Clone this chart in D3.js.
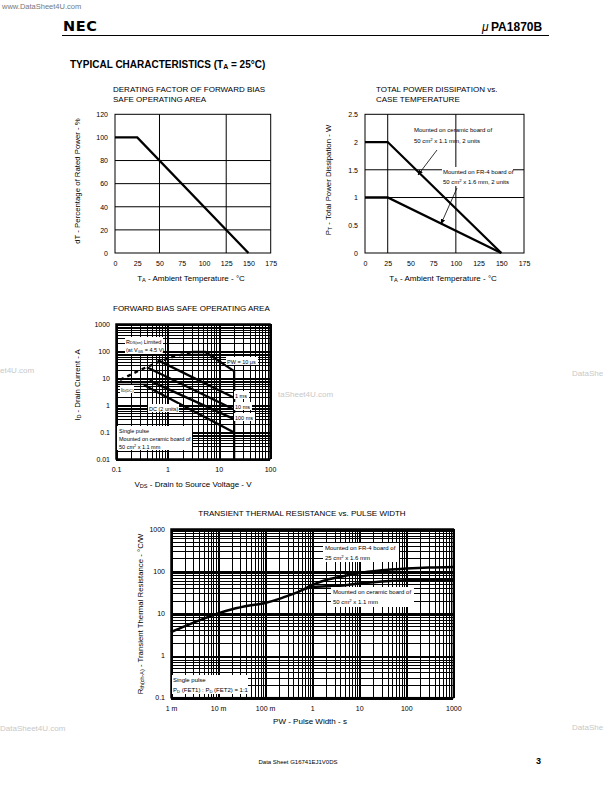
<!DOCTYPE html>
<html><head><meta charset="utf-8">
<script src="https://cdn.jsdelivr.net/npm/d3@7"></script>
<style>
body{margin:0;background:#fff}
svg{display:block;font-family:'Liberation Sans',Arial,Helvetica,sans-serif}
</style></head><body>
<svg id="c" width="612" height="792"></svg>
<script>
// ---------- DATA ----------
// Chart 1: derating factor
const derateTemp = [0, 25, 150];
const deratePct = [100, 100, 0];
const derateXTicks = [0, 25, 50, 75, 100, 125, 150, 175];
const derateYTicks = [0, 20, 40, 60, 80, 100, 120];
const derateGridX = [50, 125];
const derateGridY = [20, 40, 60, 80];

// Chart 2: total power dissipation
const pdTemp = [0, 25, 150];
const pdCeramic = [2, 2, 0];
const pdFr4 = [1, 1, 0];
const pdXTicks = [0, 25, 50, 75, 100, 125, 150, 175];
const pdYTicks = [0, 0.5, 1, 1.5, 2, 2.5];
const pdYTickLabels = ["0", "0.5", "1", "1.5", "2", "2.5"];
const pdGridX = [25, 100];
const pdGridY = [1, 1.5];

// Chart 3: forward bias SOA
const soaXTicks = [0.1, 1, 10, 100];
const soaXTickLabels = ["0.1", "1", "10", "100"];
const soaYTicks = [0.01, 0.1, 1, 10, 100, 1000];
const soaYTickLabels = ["0.01", "0.1", "1", "10", "100", "1000"];
const rdsLimitV = [0.12, 0.3, 0.7, 1.2, 3];
const rdsLimitI = [8.5, 20, 40, 58, 92];
const pw10usV = [3, 5.5, 20];
const pw10usI = [92, 92, 18];
const pw1msV = [0.65, 20];
const pw1msI = [46, 1.86];
const pw10msV = [0.4, 20];
const pw10msI = [25, 0.68];
const pw100msV = [0.45, 20];
const pw100msI = [8, 0.3];
const dcV = [0.35, 20];
const dcI = [5.5, 0.095];
const idcV = [0.1, 0.4];
const idcI = [7, 7];
const vdssV = [20, 20];
const vdssI = [18, 0.01];

// Chart 4: transient thermal resistance
const pwXTicks = [0.001, 0.01, 0.1, 1, 10, 100, 1000];
const pwXTickLabels = ["1 m", "10 m", "100 m", "1", "10", "100", "1000"];
const rthYTicks = [0.1, 1, 10, 100, 1000];
const rthYTickLabels = ["0.1", "1", "10", "100", "1000"];
const rthCommonPW = [0.001, 0.002, 0.005, 0.01, 0.02, 0.05, 0.1, 0.2, 0.3, 0.5, 0.7];
const rthCommonR = [3.6, 5.0, 7.5, 9.9, 12.5, 15.5, 17.6, 22, 26, 32, 38];
const rthFr4PW = [0.7, 1, 2, 4.6, 10, 30, 100, 300, 1000];
const rthFr4R = [38, 47, 62, 76, 91, 105, 115, 122, 126];
const rthCerPW = [0.7, 1, 2, 4.6, 10, 30, 100, 300, 1000];
const rthCerR = [38, 42, 44, 46, 51, 57, 61, 62.5, 63];

// ---------- DRAW ----------
const svg = d3.select("#c");
const TICK = 7;
const LBL = 8;
const zip = (a, b) => a.map((v, i) => [v, b[i]]);

function txt(g, x, y, parts, opt = {}) {
  const size = opt.size || LBL;
  const t = g.append("text").attr("x", x).attr("y", y)
    .attr("font-size", size).attr("fill", opt.fill || "#000")
    .attr("text-anchor", opt.anchor || "start");
  if (opt.weight) t.attr("font-weight", opt.weight);
  if (opt.rotate) t.attr("transform", `rotate(${opt.rotate},${x},${y})`);
  let cur = 0;
  (Array.isArray(parts) ? parts : [parts]).forEach(p => {
    let target = 0, s;
    if (typeof p === "string") { s = t.append("tspan").text(p); target = 0; }
    else {
      s = t.append("tspan").text(p.t).attr("font-size", size * 0.7);
      target = p.sub ? size * 0.1 : -size * 0.4;
    }
    if (target !== cur) s.attr("dy", target - cur);
    cur = target;
  });
  return t;
}

function note(g, x, y, w, h, lines, size) {
  g.append("rect").attr("x", x).attr("y", y).attr("width", w).attr("height", h).attr("fill", "#fff");
  lines.forEach((ln, i) => txt(g, x + 1, y + 6.5 + i * 8.5, ln, { size: size || 6 }));
}

// ---------- Header ----------
svg.append("text").attr("x", 2).attr("y", 9).attr("font-size", 7.5).attr("fill", "#777").text("www.DataSheet4U.com");
svg.append("text").attr("x", 63).attr("y", 31).attr("font-size", 14.5).attr("font-weight", "bold")
  .attr("font-family", "'DejaVu Sans',sans-serif").attr("letter-spacing", 0.6).text("NEC");
svg.append("text").attr("x", 482).attr("y", 31).attr("font-size", 12).attr("font-style", "italic").text("\u03bc");
svg.append("text").attr("x", 491).attr("y", 31).attr("font-size", 12).attr("font-weight", "bold").text("PA1870B");
svg.append("line").attr("x1", 62).attr("x2", 549).attr("y1", 35.5).attr("y2", 35.5).attr("stroke", "#000").attr("stroke-width", 1);
txt(svg, 70, 68, ["TYPICAL  CHARACTERISTICS (T", { t: "A", sub: 1 }, " = 25\u00b0C)"], { size: 10, weight: "bold" });

// watermarks (visible parts only)
[[0, 373, "et4U.com"], [572, 376, "DataShe"], [278, 397, "taSheet4U.com"], [0, 731, "DataSheet4U.com"], [572, 730, "DataShe"]].forEach(([x, y, s]) =>
  svg.append("text").attr("x", x).attr("y", y).attr("font-size", 8).attr("fill", "#c8c8c8").text(s));

// footer
svg.append("text").attr("x", 298).attr("y", 764).attr("font-size", 6).attr("text-anchor", "middle").text("Data Sheet  G16741EJ1V0DS");
svg.append("text").attr("x", 536).attr("y", 764).attr("font-size", 9).attr("font-weight", "bold").text("3");

function styleAxes(list) {
  list.forEach(a => { a.select(".domain").remove(); a.selectAll("text").attr("font-size", TICK).attr("font-family", null); });
}

// ---------- Chart 1 ----------
{
  const g = svg.append("g");
  const x = d3.scaleLinear().domain([0, 175]).range([115, 270.7]);
  const y = d3.scaleLinear().domain([0, 120]).range([253, 114.3]);
  derateGridX.forEach(v => g.append("line").attr("x1", x(v)).attr("x2", x(v)).attr("y1", y(0)).attr("y2", y(120)).attr("stroke", "#000").attr("stroke-width", 1));
  derateGridY.forEach(v => g.append("line").attr("x1", x(0)).attr("x2", x(175)).attr("y1", y(v)).attr("y2", y(v)).attr("stroke", "#000").attr("stroke-width", 1));
  g.append("rect").attr("x", x(0)).attr("y", y(120)).attr("width", x(175) - x(0)).attr("height", y(0) - y(120)).attr("fill", "none").attr("stroke", "#000").attr("stroke-width", 1);
  g.append("path").datum(zip(derateTemp, deratePct)).attr("fill", "none").attr("stroke", "#000").attr("stroke-width", 2.3)
    .attr("d", d3.line().x(d => x(d[0])).y(d => y(d[1])));
  const xa = g.append("g").attr("transform", `translate(0,${y(0)})`).call(d3.axisBottom(x).tickValues(derateXTicks).tickSize(0).tickPadding(8));
  const ya = g.append("g").attr("transform", `translate(${x(0)},0)`).call(d3.axisLeft(y).tickValues(derateYTicks).tickSize(0).tickPadding(7));
  styleAxes([xa, ya]);
  txt(g, 113, 92, "DERATING FACTOR OF FORWARD BIAS");
  txt(g, 113, 102, "SAFE OPERATING AREA");
  txt(g, 191, 281, ["T", { t: "A", sub: 1 }, " - Ambient Temperature - \u00b0C"], { anchor: "middle" });
  txt(g, 80, 181, "dT - Percentage of Rated Power - %", { anchor: "middle", rotate: -90, size: 7.8 });
}

// ---------- Chart 2 ----------
{
  const g = svg.append("g");
  const x = d3.scaleLinear().domain([0, 175]).range([365, 524]);
  const y = d3.scaleLinear().domain([0, 2.5]).range([253, 114.3]);
  pdGridX.forEach(v => g.append("line").attr("x1", x(v)).attr("x2", x(v)).attr("y1", y(0)).attr("y2", y(2.5)).attr("stroke", "#000"));
  pdGridY.forEach(v => g.append("line").attr("x1", x(0)).attr("x2", x(175)).attr("y1", y(v)).attr("y2", y(v)).attr("stroke", "#000"));
  g.append("rect").attr("x", x(0)).attr("y", y(2.5)).attr("width", x(175) - x(0)).attr("height", y(0) - y(2.5)).attr("fill", "none").attr("stroke", "#000");
  const ln = d3.line().x(d => x(d[0])).y(d => y(d[1]));
  g.append("path").datum(zip(pdTemp, pdCeramic)).attr("fill", "none").attr("stroke", "#000").attr("stroke-width", 2.3).attr("d", ln);
  g.append("path").datum(zip(pdTemp, pdFr4)).attr("fill", "none").attr("stroke", "#000").attr("stroke-width", 2.3).attr("d", ln);
  const xa = g.append("g").attr("transform", `translate(0,${y(0)})`).call(d3.axisBottom(x).tickValues(pdXTicks).tickSize(0).tickPadding(8));
  const ya = g.append("g").attr("transform", `translate(${x(0)},0)`).call(d3.axisLeft(y).tickValues(pdYTicks).tickFormat((d, i) => pdYTickLabels[i]).tickSize(0).tickPadding(7));
  styleAxes([xa, ya]);
  txt(g, 376, 92, "TOTAL POWER DISSIPATION vs.");
  txt(g, 376, 102, "CASE TEMPERATURE");
  txt(g, 443, 281, ["T", { t: "A", sub: 1 }, " - Ambient Temperature - \u00b0C"], { anchor: "middle" });
  txt(g, 331, 180, ["P", { t: "T", sub: 1 }, " - Total Power Dissipation - W"], { anchor: "middle", rotate: -90, size: 7.8 });
  txt(g, 414, 132, "Mounted on ceramic board of", { size: 6 });
  txt(g, 414, 143, ["50 cm", { t: "2", sup: 1 }, " x 1.1 mm, 2 units"], { size: 6 });
  g.append("rect").attr("x", 442).attr("y", 167).attr("width", 71).attr("height", 19).attr("fill", "#fff");
  txt(g, 443, 174, "Mounted on FR-4 board of", { size: 6 });
  txt(g, 443, 184, ["50 cm", { t: "2", sup: 1 }, " x 1.6 mm, 2 units"], { size: 6 });
  const defs = svg.append("defs");
  defs.append("marker").attr("id", "ah").attr("viewBox", "0 0 10 10").attr("refX", 9).attr("refY", 5)
    .attr("markerWidth", 7).attr("markerHeight", 7).attr("orient", "auto")
    .append("path").attr("d", "M0,1 L10,5 L0,9 Z").attr("fill", "#000");
  g.append("line").attr("x1", 437).attr("y1", 150).attr("x2", 418).attr("y2", 175).attr("stroke", "#000").attr("stroke-width", 0.8).attr("marker-end", "url(#ah)");
  g.append("line").attr("x1", 457).attr("y1", 188).attr("x2", 441).attr("y2", 224).attr("stroke", "#000").attr("stroke-width", 0.8).attr("marker-end", "url(#ah)");
}

// log grid helper
function logGrid(g, x, y, xd, yd) {
  const vals = (lo, hi) => { const a = []; for (let e = Math.round(Math.log10(lo)); e < Math.round(Math.log10(hi)); e++) for (let k = 1; k <= 9; k++) a.push([k * Math.pow(10, e), k === 1]); a.push([hi, true]); return a; };
  const gg = g.append("g").attr("shape-rendering", "crispEdges");
  vals(xd[0], xd[1]).forEach(([v, major]) => gg.append("line").attr("x1", Math.round(x(v)) + 0.5).attr("x2", Math.round(x(v)) + 0.5).attr("y1", y(yd[0])).attr("y2", y(yd[1])).attr("stroke", "#000").attr("stroke-width", major ? 2 : 1));
  vals(yd[0], yd[1]).forEach(([v, major]) => gg.append("line").attr("x1", x(xd[0])).attr("x2", x(xd[1])).attr("y1", Math.round(y(v)) + 0.5).attr("y2", Math.round(y(v)) + 0.5).attr("stroke", "#000").attr("stroke-width", major ? 2 : 1));
  g.append("rect").attr("x", x(xd[0])).attr("y", y(yd[1])).attr("width", x(xd[1]) - x(xd[0])).attr("height", y(yd[0]) - y(yd[1])).attr("fill", "none").attr("stroke", "#000").attr("stroke-width", 1.5);
}

// ---------- Chart 3 ----------
{
  const g = svg.append("g");
  const x = d3.scaleLog().domain([0.1, 100]).range([116, 270]);
  const y = d3.scaleLog().domain([0.01, 1000]).range([459, 324]);
  logGrid(g, x, y, [0.1, 100], [0.01, 1000]);
  const ln = d3.line().x(d => x(d[0])).y(d => y(d[1]));
  g.append("path").datum(zip(rdsLimitV, rdsLimitI)).attr("fill", "none").attr("stroke", "#000").attr("stroke-width", 2.3).attr("stroke-dasharray", "4,4").attr("d", ln);
  [[pw10usV, pw10usI], [pw1msV, pw1msI], [pw10msV, pw10msI], [pw100msV, pw100msI], [dcV, dcI], [idcV, idcI], [vdssV, vdssI]].forEach(([a, b]) =>
    g.append("path").datum(zip(a, b)).attr("fill", "none").attr("stroke", "#000").attr("stroke-width", 2.3).attr("d", ln));
  note(g, 125, 337, 38, 17, [["R", { t: "DS(on)", sub: 1 }, " Limited"], ["(at V", { t: "GS", sub: 1 }, " = 4.5 V)"]], 5.5);
  note(g, 226, 357, 32, 8, [["PW = 10 \u03bcs"]], 5.5);
  note(g, 120, 385, 14, 8, [["I", { t: "D(DC)", sub: 1 }]], 5.5);
  note(g, 234, 391, 15, 8, [["1 ms"]], 5.5);
  note(g, 234, 402, 18, 8, [["10 ms"]], 5.5);
  note(g, 234, 413, 21, 8, [["100 ms"]], 5.5);
  note(g, 148, 404, 31, 8, [["DC (2 units)"]], 5.5);
  g.append("rect").attr("x", 117).attr("y", 426).attr("width", 75).attr("height", 24).attr("fill", "#fff");
  txt(g, 119, 433, "Single pulse", { size: 5.5 });
  txt(g, 119, 441, "Mounted on ceramic board of", { size: 5.5 });
  txt(g, 119, 449, ["50 cm", { t: "2", sup: 1 }, " x 1.1 mm"], { size: 5.5 });
  const xa = g.append("g").attr("transform", `translate(0,${y(0.01)})`).call(d3.axisBottom(x).tickValues(soaXTicks).tickFormat((d, i) => soaXTickLabels[i]).tickSize(0).tickPadding(8));
  const ya = g.append("g").attr("transform", `translate(${x(0.1)},0)`).call(d3.axisLeft(y).tickValues(soaYTicks).tickFormat((d, i) => soaYTickLabels[i]).tickSize(0).tickPadding(6));
  styleAxes([xa, ya]);
  txt(g, 113, 311, "FORWARD BIAS SAFE OPERATING AREA");
  txt(g, 193, 487, ["V", { t: "DS", sub: 1 }, " - Drain to Source Voltage - V"], { anchor: "middle" });
  txt(g, 80, 385, ["I", { t: "D", sub: 1 }, " - Drain Current - A"], { anchor: "middle", rotate: -90, size: 7.8 });
}

// ---------- Chart 4 ----------
{
  const g = svg.append("g");
  const x = d3.scaleLog().domain([0.001, 1000]).range([171, 453.3]);
  const y = d3.scaleLog().domain([0.1, 1000]).range([697.7, 529]);
  logGrid(g, x, y, [0.001, 1000], [0.1, 1000]);
  const ln = d3.line().curve(d3.curveMonotoneX).x(d => x(d[0])).y(d => y(d[1]));
  [[rthCommonPW, rthCommonR], [rthFr4PW, rthFr4R], [rthCerPW, rthCerR]].forEach(([a, b]) =>
    g.append("path").datum(zip(a, b)).attr("fill", "none").attr("stroke", "#000").attr("stroke-width", 2.5).attr("d", ln));
  g.append("rect").attr("x", 323).attr("y", 543).attr("width", 76).attr("height", 19).attr("fill", "#fff");
  txt(g, 325, 550, "Mounted on FR-4 board of", { size: 6 });
  txt(g, 325, 560, ["25 cm", { t: "2", sup: 1 }, " x 1.6 mm"], { size: 6 });
  g.append("rect").attr("x", 331).attr("y", 587).attr("width", 83).attr("height", 20).attr("fill", "#fff");
  txt(g, 333, 594, "Mounted on ceramic board of", { size: 6 });
  txt(g, 333, 604, ["50 cm", { t: "2", sup: 1 }, " x 1.1 mm"], { size: 6 });
  g.append("rect").attr("x", 172).attr("y", 675).attr("width", 76).attr("height", 19).attr("fill", "#fff");
  txt(g, 173, 682, "Single pulse", { size: 6 });
  txt(g, 173, 692, ["P", { t: "D", sub: 1 }, " (FET1) : P", { t: "D", sub: 1 }, " (FET2) = 1:1"], { size: 6 });
  const xa = g.append("g").attr("transform", `translate(0,${y(0.1)})`).call(d3.axisBottom(x).tickValues(pwXTicks).tickFormat((d, i) => pwXTickLabels[i]).tickSize(0).tickPadding(8));
  const ya = g.append("g").attr("transform", `translate(${x(0.001)},0)`).call(d3.axisLeft(y).tickValues(rthYTicks).tickFormat((d, i) => rthYTickLabels[i]).tickSize(0).tickPadding(6));
  styleAxes([xa, ya]);
  txt(g, 302, 516, "TRANSIENT THERMAL RESISTANCE vs. PULSE WIDTH", { anchor: "middle" });
  txt(g, 310, 724, "PW - Pulse Width - s", { anchor: "middle" });
  txt(g, 143, 614, ["R", { t: "th(ch-A)", sub: 1 }, " - Transient Thermal Resistance - \u00b0C/W"], { anchor: "middle", rotate: -90, size: 7.8 });
}
</script></body></html>
